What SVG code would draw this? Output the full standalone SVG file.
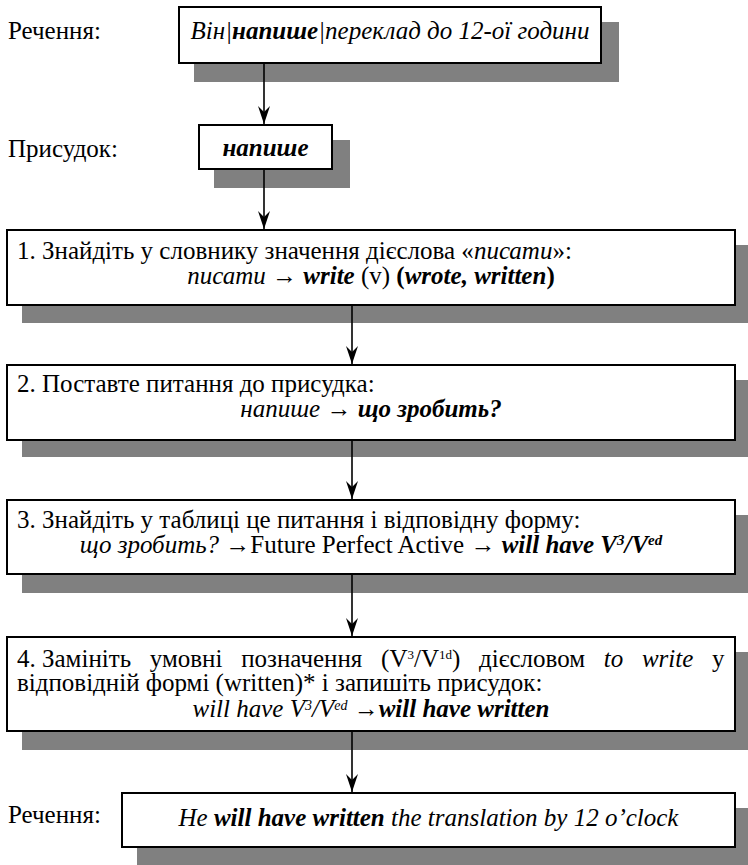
<svg xmlns="http://www.w3.org/2000/svg" width="748" height="865" viewBox="0 0 748 865">
<defs>
<style>
.box{fill:#fff;stroke:#000;stroke-width:2}
.sh{fill:#808080}
.conn line{stroke:#000;stroke-width:1.6;marker-end:url(#ah)}
</style>
<marker id="ah" markerUnits="userSpaceOnUse" viewBox="-19 -7 20 14" markerWidth="20" markerHeight="14" refX="0" refY="0" orient="auto">
<path d="M0,0 L-18,-6 L-12,0 L-18,6 Z" fill="#000"/>
</marker>
</defs>
<rect width="748" height="865" fill="#fff"/>
<g font-family="Liberation Serif, serif" font-size="25" fill="#000">

<g id="label-sentence-top"><text x="8" y="39">Речення:</text></g>
<g id="node-sentence">
<rect class="sh" x="194" y="22" width="425" height="60"/>
<rect class="box" x="179" y="7" width="422" height="56"/>
<text text-anchor="middle" font-style="italic" x="390" y="39">Він|<tspan font-weight="bold">напише</tspan>|переклад до 12-ої години</text>
</g>

<g id="label-predicate"><text x="8" y="157">Присудок:</text></g>
<g id="node-predicate">
<rect class="sh" x="214" y="140" width="136" height="48"/>
<rect class="box" x="199" y="125" width="133" height="44"/>
<text text-anchor="middle" font-style="italic" font-weight="bold" x="265.5" y="156">напише</text>
</g>

<g id="node-step1">
<rect class="sh" x="22" y="245" width="731" height="78"/>
<rect class="box" x="7" y="230" width="728" height="75"/>
<text x="17" y="259">1. Знайдіть у словнику значення дієслова «<tspan font-style="italic">писати</tspan>»:</text>
<text text-anchor="middle" x="371" y="284"><tspan font-style="italic">писати</tspan> → <tspan font-style="italic" font-weight="bold">write</tspan> (v) <tspan font-weight="bold">(</tspan><tspan font-style="italic" font-weight="bold">wrote, written</tspan><tspan font-weight="bold">)</tspan></text>
</g>

<g id="node-step2">
<rect class="sh" x="22" y="380" width="731" height="77"/>
<rect class="box" x="7" y="365" width="728" height="75"/>
<text x="17" y="392">2. Поставте питання до присудка:</text>
<text text-anchor="middle" x="371" y="417"><tspan font-style="italic">напише</tspan> → <tspan font-style="italic" font-weight="bold">що зробить?</tspan></text>
</g>

<g id="node-step3">
<rect class="sh" x="22" y="515" width="731" height="78"/>
<rect class="box" x="7" y="500" width="728" height="74"/>
<text x="17" y="528">3. Знайдіть у таблиці це питання і відповідну форму:</text>
<text text-anchor="middle" x="371" y="553"><tspan font-style="italic">що зробить?</tspan> →Future Perfect Active → <tspan font-style="italic" font-weight="bold">will have V<tspan dy="-8" font-size="15">3</tspan><tspan dy="8">/V</tspan><tspan dy="-8" font-size="15">ed</tspan></tspan></text>
</g>

<g id="node-step4">
<rect class="sh" x="22" y="652" width="731" height="98"/>
<rect class="box" x="7" y="637" width="728" height="94"/>
<text x="17" y="667">4. Замініть<tspan word-spacing="12.5"> умовні позначення (V<tspan dy="-8" font-size="13">3</tspan><tspan dy="8">/V</tspan><tspan dy="-8" font-size="13">1d</tspan><tspan dy="8">) дієсловом </tspan><tspan font-style="italic">to write</tspan> у</tspan></text>
<text x="17" y="691">відповідній формі (written)* і запишіть присудок:</text>
<text text-anchor="middle" x="371" y="717"><tspan font-style="italic">will have V<tspan dy="-7" font-size="14">3</tspan><tspan dy="7">/V</tspan><tspan dy="-7" font-size="14">ed</tspan></tspan><tspan dy="7" font-weight="bold"> →</tspan><tspan font-style="italic" font-weight="bold">will have written</tspan></text>
</g>

<g id="label-sentence-bottom"><text x="8" y="823">Речення:</text></g>
<g id="node-result">
<rect class="sh" x="137" y="808" width="616" height="57"/>
<rect class="box" x="122" y="793" width="613" height="54"/>
<text text-anchor="middle" font-style="italic" x="428.5" y="826">He <tspan font-weight="bold">will have written</tspan> the translation by 12 o’clock</text>
</g>

<g id="connectors" class="conn">
<line x1="264" y1="64" x2="264" y2="124"/>
<line x1="264" y1="170" x2="264" y2="229"/>
<line x1="352" y1="306" x2="352" y2="364"/>
<line x1="352" y1="441" x2="352" y2="499"/>
<line x1="352" y1="575" x2="352" y2="636"/>
<line x1="352" y1="732" x2="352" y2="792"/>
</g>
</g>
</svg>
